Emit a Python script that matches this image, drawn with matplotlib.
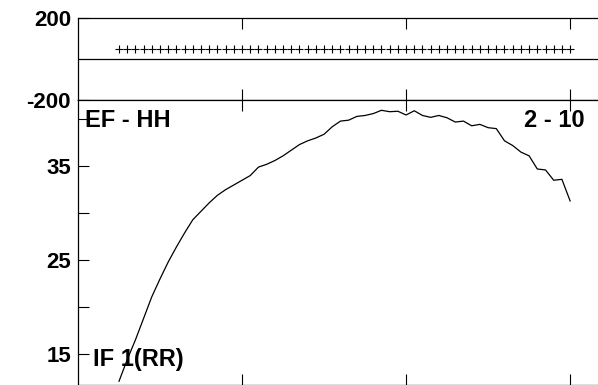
import matplotlib
matplotlib.use('Agg')
import matplotlib.pyplot as plt

# x positions (same grid for both panels)
freq = [0.25, 0.30, 0.35, 0.40, 0.45, 0.50, 0.55, 0.60, 0.65, 0.70,
        0.75, 0.80, 0.85, 0.90, 0.95, 1.00, 1.05, 1.10, 1.15, 1.20,
        1.25, 1.30, 1.35, 1.40, 1.45, 1.50, 1.55, 1.60, 1.65, 1.70,
        1.75, 1.80, 1.85, 1.90, 1.95, 2.00, 2.05, 2.10, 2.15, 2.20,
        2.25, 2.30, 2.35, 2.40, 2.45, 2.50, 2.55, 2.60, 2.65, 2.70,
        2.75, 2.80, 2.85, 2.90, 2.95, 3.00]

phase = [50, 50, 50, 50, 50, 50, 50, 50, 50, 50,
         50, 50, 50, 50, 50, 50, 50, 50, 50, 50,
         50, 50, 50, 50, 50, 50, 50, 50, 50, 50,
         50, 50, 50, 50, 50, 50, 50, 50, 50, 50,
         50, 50, 50, 50, 50, 50, 50, 50, 50, 50,
         50, 50, 50, 50, 50, 50]

level = [12.1, 14.4, 16.5, 18.8, 21.1, 23.0, 24.8, 26.4, 27.9, 29.3,
         30.2, 31.1, 31.9, 32.5, 33.0, 33.5, 34.0, 34.9, 35.2, 35.6,
         36.1, 36.7, 37.3, 37.7, 38.0, 38.4, 39.2, 39.8, 39.9, 40.3,
         40.4, 40.6, 40.95, 40.8, 40.85, 40.45, 40.9, 40.4, 40.2, 40.4,
         40.15, 39.7, 39.8, 39.3, 39.45, 39.1, 39.0, 37.7, 37.2, 36.5,
         36.1, 34.7, 34.6, 33.5, 33.6, 31.3]

top_ticks = [200, -200]
top_labels = ['200', '-200']
bot_ticks = [40, 35, 30, 25, 20, 15]
bot_labels = ['', '35', '', '25', '', '15']

plt.rcParams['font.family'] = ['Liberation Sans', 'DejaVu Sans']
plt.rcParams['font.weight'] = 'bold'

W, H = 598, 385
fig = plt.figure(figsize=(W / 100, H / 100), dpi=100)

left = 78 / W
ax1 = fig.add_axes([left, 1 - 99.5 / H, 1 - left, (99.5 - 18) / H])
ax2 = fig.add_axes([left, 0, 1 - left, 1 - 99.5 / H])

for ax in (ax1, ax2):
    ax.set_xlim(0, 3.17)
    ax.spines['right'].set_visible(False)
    for s in ('left', 'top', 'bottom'):
        ax.spines[s].set_linewidth(0.9)
    ax.set_xticks([1, 2, 3])
    ax.tick_params(axis='x', direction='in', top=True, bottom=True,
                   labelbottom=False, length=8, width=0.8)
    ax.tick_params(axis='y', direction='in', length=8, width=0.8,
                   labelsize=16, pad=5)

ax1.plot(freq, phase, linestyle='none', marker='+', color='black',
         markersize=6, markeredgewidth=0.8)
ax1.axhline(0, color='black', lw=0.9)
ax1.set_ylim(-200, 200)
ax1.set_yticks(top_ticks)
ax1.set_yticklabels(top_labels)

ax2.plot(freq, level, color='black', lw=0.9)
ax2.set_ylim(11.7, 42.1)
ax2.set_yticks(bot_ticks)
ax2.set_yticklabels(bot_labels)

fig.text(85 / W, 1 - 127 / H, 'EF - HH', fontsize=17, fontweight='bold')
fig.text(585 / W, 1 - 127 / H, '2 - 10', fontsize=17, fontweight='bold',
         ha='right')
fig.text(93 / W, 1 - 366 / H, 'IF 1(RR)', fontsize=17, fontweight='bold')

fig.savefig('out.png', dpi=100)
